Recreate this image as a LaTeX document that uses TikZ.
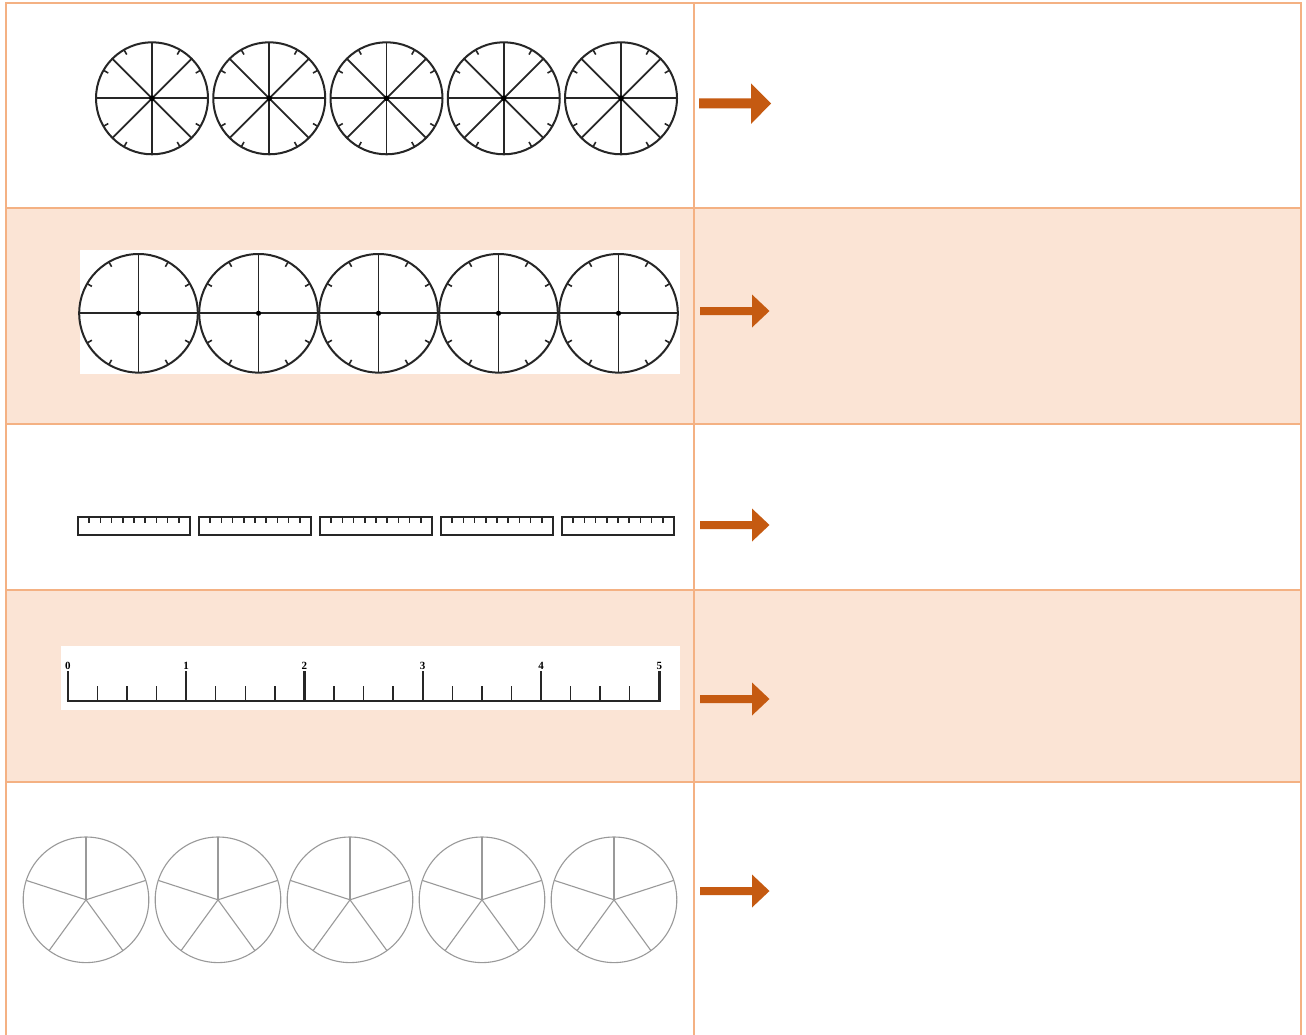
\documentclass[tikz,border=0pt]{standalone}
\usepackage{fontspec}
\setmainfont{Liberation Serif}
\definecolor{bord}{HTML}{F4B183}
\definecolor{peach}{HTML}{FBE4D5}
\definecolor{arrc}{HTML}{C55A11}
\tikzset{
  rim/.style={line width=2pt, black!85},
  spoke/.style={line width=1.8pt, black!85},
  hourtick/.style={line width=1.6pt, black!85},
  piel/.style={line width=1.1pt, black!40},
  rulerbox/.style={line width=2.2pt, black!85},
  rtick/.style={line width=1.6pt, black!85},
  border/.style={line width=2pt, bord},
  numlab/.style={font=\fontsize{11}{11}\selectfont\bfseries, inner sep=0pt, anchor=south},
  bigarrow/.style={fill=arrc},
  eightclock/.pic={
    \draw[rim] (0,0) circle[radius=56];
    \foreach \a in {0,45,...,315} \draw[spoke] (0,0) -- (\a:56.5);
    \foreach \a in {30,60,120,150,210,240,300,330} \draw[hourtick] (\a:56) -- (\a:50.5);
    \fill (0,0) circle[radius=2.8];
  },
  fourclock/.pic={
    \draw[rim] (0,0) circle[radius=59.3];
    \foreach \a in {0,90,180,270} \draw[spoke] (0,0) -- (\a:59.5);
    \foreach \a in {30,60,120,150,210,240,300,330} \draw[hourtick] (\a:59.3) -- (\a:53.8);
    \fill (0,0) circle[radius=2.6];
  },
  fivepie/.pic={
    \draw[piel] (0,0) circle[radius=62.8];
    \foreach \a in {-90,-18,54,126,198} \draw[piel] (0,0) -- (\a:62.8);
  },
  ruler/.pic={
    \draw[rulerbox] (0,0) rectangle (112,18);
    \foreach \tx in {11.2,22.4,33.6,44.8,56,67.2,78.4,89.6,100.8} \draw[rtick] (\tx,0) -- (\tx,5.5);
  }
}
\begin{document}
\begin{tikzpicture}[x=1pt,y=-1pt]
\useasboundingbox (0,0) rectangle (1306,1035);
\fill[white] (0,0) rectangle (1306,1035);
% row backgrounds
\fill[peach] (6,208) rectangle (1300.5,424);
\fill[peach] (6,590) rectangle (1300.5,782);
% white picture backgrounds
\fill[white] (80,250) rectangle (680,374);
\fill[white] (61,646) rectangle (680,710);
% table lines
\draw[border] (6,1035) -- (6,3.5) -- (1300.5,3.5) -- (1300.5,1035);
\draw[border] (694,3.5) -- (694,1035);
\foreach \yy in {208,424,590,782} \draw[border] (6,\yy) -- (1300.5,\yy);

% row 1: clocks with eight parts
\foreach \cx in {152,269.25,386.5,503.75,621} \pic at (\cx,98.3) {eightclock};
% row 2: clocks with four parts
\foreach \cx in {138.5,258.5,378.5,498.5,618.5} \pic at (\cx,313.3) {fourclock};
% row 3: rulers
\foreach \rx in {78,199,320,441,562} \pic at (\rx,517) {ruler};
% row 4: number line
\draw[line width=1.6pt, black!85] (66.5,701) -- (661,701);
\foreach \k in {0,...,4}
  \foreach \j in {1,2,3}
    \draw[line width=1.4pt, black!85] (67.8+\k*118.3+\j*29.575,686) -- (67.8+\k*118.3+\j*29.575,701);
\foreach \k in {0,...,5} {
  \draw[line width=2.4pt, black!85] (67.8+\k*118.3,671) -- (67.8+\k*118.3,701.7);
  \node[numlab] (lab\k) at (67.8+\k*118.3,669.5) {\k};
}
% row 5: pies with five parts
\foreach \cx in {86,218,350,482,614} \pic at (\cx,899.8) {fivepie};

% arrows
\fill[bigarrow] (699,98.5) -- (751,98.5) -- (751,83.5) -- (771,103.5) -- (751,124) -- (751,108.5) -- (699,108.5) -- cycle;
\foreach \ay in {311,525,699,891}
  \fill[bigarrow] (700,\ay-4) -- (752,\ay-4) -- (752,\ay-16.5) -- (769.5,\ay) -- (752,\ay+16.5) -- (752,\ay+4) -- (700,\ay+4) -- cycle;
\end{tikzpicture}
\end{document}
